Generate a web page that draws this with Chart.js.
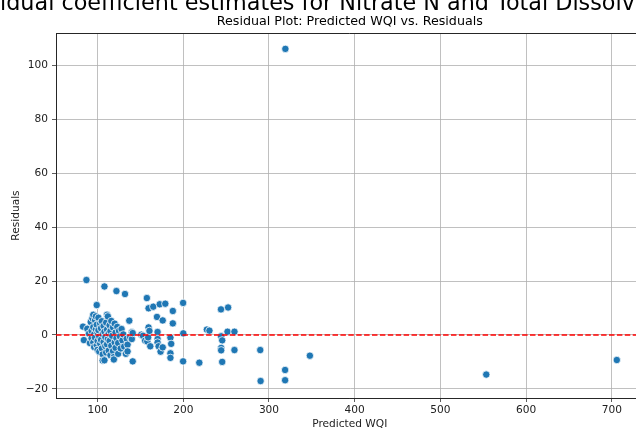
<!DOCTYPE html>
<html>
<head>
<meta charset="utf-8">
<script src="https://cdn.jsdelivr.net/npm/chart.js@4.4.1/dist/chart.umd.min.js"></script>
<style>
html,body{margin:0;padding:0;background:#fff;overflow:hidden;width:636px;height:432px;}
canvas{display:block;}
</style>
</head>
<body>
<canvas id="c" width="648" height="432"></canvas>
<script>
const suptitleText = "Individual coefficient estimates for Nitrate N and Total Dissolved Solids";
const titleText = "Residual Plot: Predicted WQI vs. Residuals";
const xLabel = "Predicted WQI";
const yLabel = "Residuals";
const xTicks = [100, 200, 300, 400, 500, 600, 700];
const yTicks = [-20, 0, 20, 40, 60, 80, 100];

const predicted = [
  83,84,87,88,90,91,92,93,93,94,95,95,95,96,96,97,97,98,98,99,99,99,100,100,100,
  101,101,102,102,103,103,104,104,105,105,106,106,106,107,107,108,108,108,109,109,
  110,110,111,111,111,112,112,113,113,114,114,115,115,116,116,117,118,118,119,119,
  120,120,121,121,122,122,123,124,124,125,126,127,128,129,130,131,132,133,134,135,
  135,137,138,140,140,141,141,151,153,155.5,157.5,158,159,159.5,159.5,160.5,161.5,
  165,169.3,170,170,170,171.2,172.5,173.5,176,176,179,185,185.9,185,185,187.8,187.8,
  199.8,200,199.8,218.7,227.5,230.5,244,252.3,244.2,245.4,251.6,259.7,244.2,244.2,
  259.7,245.4,289.8,290.2,318.8,318.8,319.1,347.7,553.5,705.8
];
const residuals = [
  3.1,-1.9,20.4,2.3,0.5,-3.0,4.8,1.5,-1.2,6.2,-2.8,2.9,7.5,0.2,-4.5,5.5,-1.0,6.9,2.1,11.1,-3.8,3.8,0.8,-2.2,-5.5,
  6.4,1.8,-0.6,-6.2,4.2,-3.2,2.5,-1.8,-5.0,5.1,0.3,-7.2,-9.5,3.3,-2.6,-9.4,18.0,1.2,-4.1,-0.8,
  4.6,-6.5,2.0,-3.5,7.5,6.9,-1.5,0.5,-5.8,3.6,-2.2,-7.5,1.4,5.2,-4.0,-0.3,2.8,-6.0,-8.2,-9.1,
  4.2,-2.8,0.9,-4.8,16.3,-1.2,3.0,-7.0,-3.0,1.5,-0.5,-5.0,2.2,-2.0,0.2,-4.3,15.2,-7.0,-1.4,-3.6,
  -6.1,5.3,-0.8,1.0,-1.5,-9.8,0.7,0.1,-0.3,-2.1,13.7,-2.4,-0.9,9.9,2.8,1.5,-4.2,
  10.5,6.7,1.1,-1.5,-2.8,-4.2,11.4,-6.2,5.4,-4.6,11.6,-1.0,-3.3,-6.8,-8.5,8.9,4.3,
  11.9,0.6,-9.8,-10.3,2.0,1.6,9.5,10.2,-0.5,-2.0,1.2,1.2,-4.8,-5.7,
  -5.6,-10.0,-5.6,-17.1,-13.0,-16.8,106.2,-7.7,-14.7,-9.3
];

const FONT = "'DejaVu Sans', sans-serif";

const overlay = {
  id: 'overlay',
  afterDatasetsDraw(chart) {
    const {ctx, chartArea, scales} = chart;
    const y0 = scales.y.getPixelForValue(0);
    ctx.save();
    ctx.beginPath();
    ctx.rect(chartArea.left, chartArea.top, chartArea.right - chartArea.left, chartArea.bottom - chartArea.top);
    ctx.clip();
    ctx.strokeStyle = '#ff0000';
    ctx.lineWidth = 1.5;
    ctx.setLineDash([5.5, 2.4]);
    ctx.beginPath();
    ctx.moveTo(chartArea.left, y0);
    ctx.lineTo(chartArea.right, y0);
    ctx.stroke();
    ctx.restore();
  },
  afterDraw(chart) {
    const {ctx, chartArea} = chart;
    ctx.save();
    ctx.strokeStyle = '#262626';
    ctx.lineWidth = 1;
    ctx.beginPath();
    ctx.moveTo(chartArea.left, Math.round(chartArea.top) + 0.5);
    ctx.lineTo(chartArea.right, Math.round(chartArea.top) + 0.5);
    ctx.stroke();
    ctx.fillStyle = '#000';
    ctx.font = '12.7px ' + FONT;
    ctx.textAlign = 'center';
    ctx.textBaseline = 'alphabetic';
    ctx.fillText(titleText, (chartArea.left + chartArea.right) / 2, 24.5);
    ctx.font = '22.3px ' + FONT;
    ctx.textAlign = 'left';
    const off = ctx.measureText('Indiv').width;
    ctx.fillText(suptitleText, -off, 10);
    ctx.restore();
  }
};

new Chart(document.getElementById('c'), {
  type: 'scatter',
  data: {
    datasets: [{
      data: predicted.map((p, i) => ({x: p, y: residuals[i]})),
      backgroundColor: '#1f77b4',
      borderColor: '#ffffff',
      borderWidth: 0.75,
      pointRadius: 3.7,
      pointHoverRadius: 3.7
    }]
  },
  options: {
    responsive: false,
    animation: false,
    devicePixelRatio: 1,
    layout: {padding: {top: 33, left: 0, right: 0, bottom: 0}},
    plugins: {legend: {display: false}, tooltip: {enabled: false}, title: {display: false}},
    scales: {
      x: {
        type: 'linear',
        min: 51.5, max: 737,
        afterBuildTicks(s) { s.ticks = xTicks.map(v => ({value: v})); },
        afterFit(s) { s.height = 34; },
        grid: {color: '#b0b0b0', lineWidth: 0.8, tickLength: 4, tickColor: '#333'},
        border: {color: '#262626', width: 1},
        ticks: {color: '#222', font: {family: FONT, size: 10.6}, padding: 2, maxRotation: 0},
        title: {display: true, text: xLabel, color: '#222', font: {family: FONT, size: 10.6}, padding: {top: 0, bottom: 1}}
      },
      y: {
        type: 'linear',
        min: -23.4, max: 112.1,
        afterBuildTicks(s) { s.ticks = yTicks.map(v => ({value: v})); },
        afterFit(s) { s.width = 56; },
        grid: {color: '#b0b0b0', lineWidth: 0.8, tickLength: 4, tickColor: '#333'},
        border: {color: '#262626', width: 1},
        ticks: {color: '#222', font: {family: FONT, size: 10.6}, padding: 4,
          callback: v => String(v).replace('-', '\u2212')},
        title: {display: true, text: yLabel, color: '#222', font: {family: FONT, size: 10.6}, padding: {top: 10, bottom: 0}}
      }
    }
  },
  plugins: [overlay]
});
</script>
</body>
</html>
